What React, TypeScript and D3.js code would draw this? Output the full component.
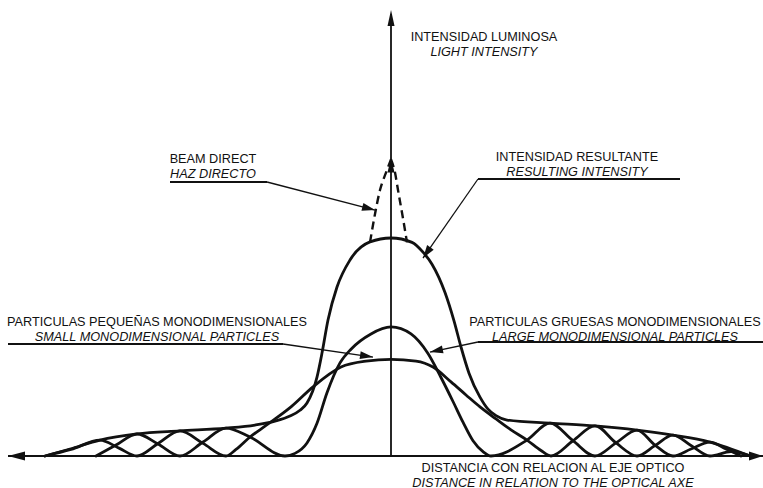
import React from 'react';
import * as d3 from 'd3';

const W = 763;
const H = 488;

// Distance from optical axis (1 unit = half-width of large-particle central lobe)
// Intensity: resulting intensity peak = 100
const resultX = [-3.46, -3.21, -2.91, -2.54, -2.11, -1.65, -1.36, -1.16, -1.01, -0.91, -0.84, -0.74, -0.69, -0.63, -0.54, -0.41, -0.21, 0, 0.21, 0.32, 0.41, 0.54, 0.63, 0.7, 0.78, 0.89, 0.97, 1.05, 1.16, 1.59, 2.04, 2.46, 2.82, 3.19, 3.59];
const resultI = [0, 3.2, 7.3, 10.1, 11.5, 12.8, 14.2, 16, 18.3, 21, 24.3, 36.2, 47.2, 62.4, 77.5, 89.9, 98.2, 100, 98, 93.5, 88, 75, 62, 50, 38, 27, 21.5, 18.5, 16.5, 15.1, 13.8, 11.9, 9.6, 6.4, 0];

const largeX = [-2.95, -2.75, -2.54, -2.33, -2.11, -1.88, -1.65, -1.41, -1.06, -0.96, -0.84, -0.74, -0.64, -0.51, -0.4, -0.2, 0, 0.2, 0.37, 0.5, 0.62, 0.72, 0.82, 0.92, 1.0, 1.36, 1.59, 1.82, 2.04, 2.25, 2.46, 2.64, 2.82, 3.0, 3.19, 3.35, 3.5];
const largeI = [0, 5, 10.1, 5.5, 0, 6.4, 12.8, 8.7, 0, 1.2, 6, 15, 29, 42.7, 49, 56, 59.2, 56, 47, 36, 25, 15.5, 7, 2, 0, 7.3, 15.1, 7, 0, 6, 11.9, 5, 0, 3.2, 6.4, 3.2, 0];

const smallX = [-3.46, -3.2, -2.91, -2.72, -2.54, -2.33, -2.11, -1.88, -1.65, -1.55, -1.41, -1.25, -1.0, -0.78, -0.5, -0.25, 0, 0.25, 0.42, 0.6, 0.75, 0.89, 1.05, 1.2, 1.36, 1.5, 1.6, 1.82, 2.04, 2.25, 2.46, 2.64, 2.82, 3.0, 3.19, 3.4, 3.6];
const smallI = [0, 3, 7.3, 3.6, 0, 5.7, 11.5, 5.8, 0, 3, 8.7, 14, 22.5, 31.7, 40.8, 43.5, 44.3, 43.5, 40.8, 34, 28, 22.5, 17, 12, 7.3, 2.5, 0, 7, 13.8, 6, 0, 4.8, 9.6, 4.8, 0, 2, 0];

const beamLeftX = [-0.21, -0.16, -0.11, -0.05, 0];
const beamLeftI = [98, 111, 122, 130, 136];
const beamRightX = [0, 0.04, 0.07, 0.12, 0.16];
const beamRightI = [136, 130, 122, 109, 98];

const axisXExtent = [-3.83, 3.72];
const axisIMax = 204.6;

const labels = [
  { lines: ['INTENSIDAD LUMINOSA', 'LIGHT INTENSITY'], cx: 484, y: 41 },
  { lines: ['BEAM DIRECT', 'HAZ DIRECTO'], cx: 213, y: 163 },
  { lines: ['INTENSIDAD RESULTANTE', 'RESULTING INTENSITY'], cx: 577, y: 161 },
  { lines: ['PARTICULAS PEQUEÑAS MONODIMENSIONALES', 'SMALL MONODIMENSIONAL PARTICLES'], cx: 157, y: 326 },
  { lines: ['PARTICULAS GRUESAS MONODIMENSIONALES', 'LARGE MONODIMENSIONAL PARTICLES'], cx: 615, y: 326 },
  { lines: ['DISTANCIA CON RELACION AL EJE OPTICO', 'DISTANCE IN RELATION TO THE OPTICAL AXE'], cx: 553, y: 472 },
];

// leaders: horizontal underline (x1..x2 at y), bend at (bx, y), tip in data units
const leaders = [
  { x1: 170, x2: 267, y: 182, bx: 267, tip: [-0.16, 112.8] },
  { x1: 478, x2: 680, y: 179, bx: 478, tip: [0.32, 90.8] },
  { x1: 8, x2: 283, y: 344, bx: 283, tip: [-0.18, 45.4] },
  { x1: 478, x2: 763, y: 342, bx: 478, tip: [0.39, 47.7] },
];

function arrowHead(tx: number, ty: number, fx: number, fy: number, len: number, hw: number) {
  const dx = tx - fx, dy = ty - fy;
  const l = Math.hypot(dx, dy) || 1;
  const ux = dx / l, uy = dy / l;
  const bx = tx - ux * len, by = ty - uy * len;
  const nx = -uy, ny = ux;
  return `M${tx},${ty}L${bx + nx * hw},${by + ny * hw}L${bx - nx * hw},${by - ny * hw}Z`;
}

export default function App() {
  const x = d3.scaleLinear().domain([-1, 1]).range([291, 491]);
  const y = d3.scaleLinear().domain([0, 100]).range([456, 238]);
  const zip = (xs: number[], ys: number[]) => xs.map((v, i) => [v, ys[i]] as [number, number]);
  const line = d3.line<[number, number]>().x(d => x(d[0])).y(d => y(d[1])).curve(d3.curveMonotoneX);

  const x0 = x(axisXExtent[0]);
  const x1 = x(axisXExtent[1]);
  const y0 = y(0);
  const cx = x(0);
  const yTop = y(axisIMax);
  const beamTop = y(beamLeftI[beamLeftI.length - 1]);

  const font = "'Liberation Sans', Arial, Helvetica, sans-serif";

  return (
    <svg width={W} height={H} style={{ position: 'absolute', left: 0, top: 0, background: '#fff' }}>
      <rect width={W} height={H} fill="#fff" />
      {/* axes */}
      <line x1={x0} y1={y0} x2={x1} y2={y0} stroke="#111" strokeWidth={2} />
      <path d={arrowHead(x0, y0, x0 + 10, y0, 17, 4.5)} fill="#111" />
      <path d={arrowHead(x1, y0, x1 - 10, y0, 14, 4.5)} fill="#111" />
      <line x1={cx} y1={y0} x2={cx} y2={yTop + 4} stroke="#111" strokeWidth={1.8} />
      <path d={arrowHead(cx, yTop, cx, yTop + 10, 16, 3.5)} fill="#111" />
      <path d={arrowHead(cx, beamTop - 2, cx, beamTop + 10, 15, 3.5)} fill="#111" />

      {/* curves */}
      <g fill="none" stroke="#111" strokeWidth={2.8} strokeLinejoin="round" strokeLinecap="round">
        <path d={line(zip(resultX, resultI)) || ''} />
        <path d={line(zip(largeX, largeI)) || ''} />
        <path d={line(zip(smallX, smallI)) || ''} />
      </g>
      <g fill="none" stroke="#111" strokeWidth={2.4} strokeDasharray="8,5">
        <path d={line(zip(beamLeftX, beamLeftI)) || ''} />
        <path d={line(zip(beamRightX, beamRightI)) || ''} />
      </g>

      {/* leaders */}
      {leaders.map((ld, i) => {
        const tx = x(ld.tip[0]);
        const ty = y(ld.tip[1]);
        return (
          <g key={i}>
            <line x1={ld.x1} y1={ld.y} x2={ld.x2} y2={ld.y} stroke="#111" strokeWidth={2} />
            <line x1={ld.bx} y1={ld.y} x2={tx} y2={ty} stroke="#111" strokeWidth={1.3} />
            <path d={arrowHead(tx, ty, ld.bx, ld.y, 13, 4)} fill="#111" />
          </g>
        );
      })}

      {/* labels */}
      {labels.map((lb, i) => (
        <g key={i} fontFamily={font} fontSize={12.7} fill="#111" textAnchor="middle">
          <text x={lb.cx} y={lb.y}>{lb.lines[0]}</text>
          <text x={lb.cx} y={lb.y + 14.5} fontStyle="italic">{lb.lines[1]}</text>
        </g>
      ))}
    </svg>
  );
}
